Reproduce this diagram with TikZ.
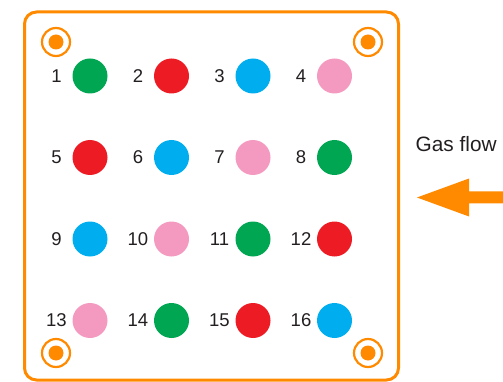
\documentclass[tikz,border=0pt]{standalone}
\usepackage{fontspec}
\setmainfont{Liberation Sans}
\definecolor{cgreen}{HTML}{00A651}
\definecolor{cred}{HTML}{ED1C24}
\definecolor{cblue}{HTML}{00AEEF}
\definecolor{cpink}{HTML}{F49AC1}
\definecolor{corange}{HTML}{FF8A00}
\definecolor{ctext}{HTML}{231F20}
\tikzset{
  spot/.style={circle, inner sep=0pt, minimum size=35pt, fill=#1, draw=none},
  numlabel/.style={text=ctext, font=\fontsize{18.5}{20}\selectfont, inner sep=0pt},
  ring/.style={circle, inner sep=0pt, minimum size=28pt, draw=corange, line width=2.2pt},
  dot/.style={circle, inner sep=0pt, minimum size=15pt, fill=corange},
}
\begin{document}
\begin{tikzpicture}[x=1pt,y=-1pt]
\useasboundingbox (0,0) rectangle (503,382);
\node[draw=corange, line width=3pt, rounded corners=12pt, minimum width=374pt, minimum height=368pt, inner sep=0pt] (frame) at (211.5,196) {};
% targets
\foreach \n/\x/\y in {tl/56/42, tr/368/42, bl/56/353, br/368/353}{
  \node[ring] (r\n) at (\x,\y) {};
  \node[dot] (d\n) at (\x,\y) {};
}
% spots
\foreach \i/\c [count=\k from 0] in {1/cgreen,2/cred,3/cblue,4/cpink,5/cred,6/cblue,7/cpink,8/cgreen,9/cblue,10/cpink,11/cgreen,12/cred,13/cpink,14/cgreen,15/cred,16/cblue}{
  \pgfmathsetmacro{\col}{mod(\k,4)}
  \pgfmathsetmacro{\row}{int(\k/4)}
  \pgfmathsetmacro{\cx}{90+81.5*\col}
  \pgfmathsetmacro{\cy}{76+81.5*\row}
  \node[spot=\c] (s\i) at (\cx,\cy) {};
  \node[numlabel] (l\i) at ([xshift=-33.5pt]s\i.center) {\i};
}
% gas flow
\node[text=ctext, font=\fontsize{20.8}{23}\selectfont, inner sep=0pt, anchor=west] (gas) at (415.5,144) {Gas flow};
\coordinate (tail) at (503,197.5);
\coordinate (tip) at (417,197.5);
\fill[corange] (tip) -- (469,178.5) -- (469,191.5) -- (tail|-0,191.5) -- (tail|-0,203.5) -- (469,203.5) -- (469,216.5) -- cycle;
\end{tikzpicture}
\end{document}
